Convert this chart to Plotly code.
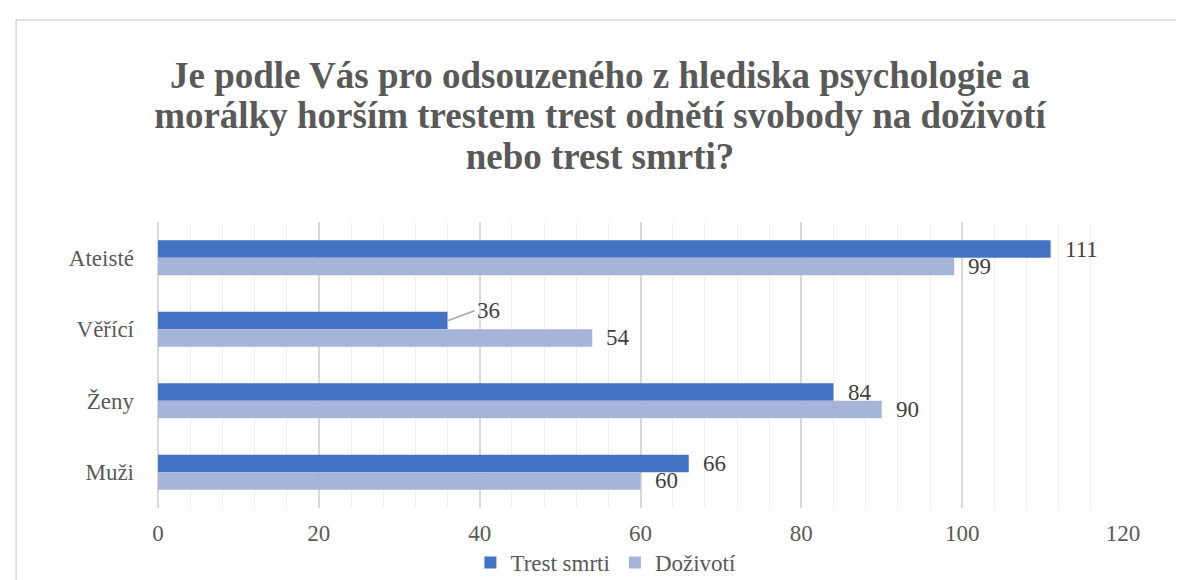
import plotly.graph_objects as go

categories = ["Ateisté", "Věřící", "Ženy", "Muži"]
trest_smrti = [111, 36, 84, 66]
dozivoti = [99, 54, 90, 60]
series_names = ["Trest smrti", "Doživotí"]
colors = ["#4472C4", "#A7B4DA"]
title_lines = ["Je podle Vás pro odsouzeného z hlediska psychologie a",
               "morálky horším trestem trest odnětí svobody na doživotí",
               "nebo trest smrti?"]
x_ticks = [0, 20, 40, 60, 80, 100, 120]

FONT = "Liberation Serif, Times New Roman, serif"

fig = go.Figure()
for name, vals, col in zip(series_names, [trest_smrti, dozivoti], colors):
    fig.add_trace(go.Bar(
        y=categories, x=vals, name=name, orientation="h",
        marker=dict(color=col, line=dict(width=0)),
        hoverinfo="x+name",
    ))

# value labels
annotations = []
for i, cat in enumerate(categories):
    for vals, shift in ((trest_smrti, 8.5), (dozivoti, -8.5)):
        v = vals[i]
        if vals is trest_smrti and v == 36:
            annotations.append(dict(
                x=v, y=cat, xref="x", yref="y", yshift=shift,
                text=str(v), showarrow=True, arrowhead=0, arrowwidth=1.5,
                arrowcolor="#A6A6A6", ax=27, ay=-10, xanchor="left",
                font=dict(family=FONT, size=23, color="#404040"),
            ))
        else:
            annotations.append(dict(
                x=v, y=cat, xref="x", yref="y", yshift=shift, xshift=12,
                text=str(v), showarrow=False, xanchor="left", yanchor="middle",
                font=dict(family=FONT, size=23, color="#404040"),
            ))

title_text = "<br>".join(
    "<span style='font-size:37px'>%s</span>" % line for line in title_lines)

fig.update_layout(
    width=1184, height=580,
    font=dict(family=FONT, color="#595959"),
    margin=dict(l=150, r=69, t=214, b=80, autoexpand=False),
    paper_bgcolor="white", plot_bgcolor="white",
    barmode="group", bargap=0.51, bargroupgap=0,
    title=dict(text=title_text, x=0.5, xref="container", xanchor="center",
               y=0.862, yref="container", yanchor="top", automargin=False,
               font=dict(family=FONT, size=31, color="#595959", weight="bold")),
    xaxis=dict(range=[0, 120], tickvals=x_ticks, showgrid=True,
               gridcolor="#D9D9D9", gridwidth=1.5,
               minor=dict(dtick=4, showgrid=True, gridcolor="#EFEFEF", gridwidth=1),
               zeroline=True, zerolinecolor="#D9D9D9", zerolinewidth=1.5,
               showline=False, ticks="", ticklabelstandoff=9, automargin=False,
               tickfont=dict(family=FONT, size=23, color="#595959")),
    yaxis=dict(categoryorder="array", categoryarray=categories,
               autorange="reversed", showgrid=False, zeroline=False,
               showline=False, ticks="", ticklabelstandoff=23, automargin=False,
               tickfont=dict(family=FONT, size=23, color="#595959")),
    legend=dict(orientation="h", x=0.505, xref="container", xanchor="center",
                y=0.044, yref="container", yanchor="middle",
                bgcolor="rgba(0,0,0,0)",
                font=dict(family=FONT, size=23, color="#595959"),
                traceorder="normal", itemwidth=30),
    annotations=annotations,
    shapes=[dict(type="rect", xref="paper", yref="paper",
                 x0=-0.147, x1=1.08, y0=-0.32, y1=1.706,
                 line=dict(color="#D9D9D9", width=1.5), layer="below")],
)

fig.write_html("out.html")
